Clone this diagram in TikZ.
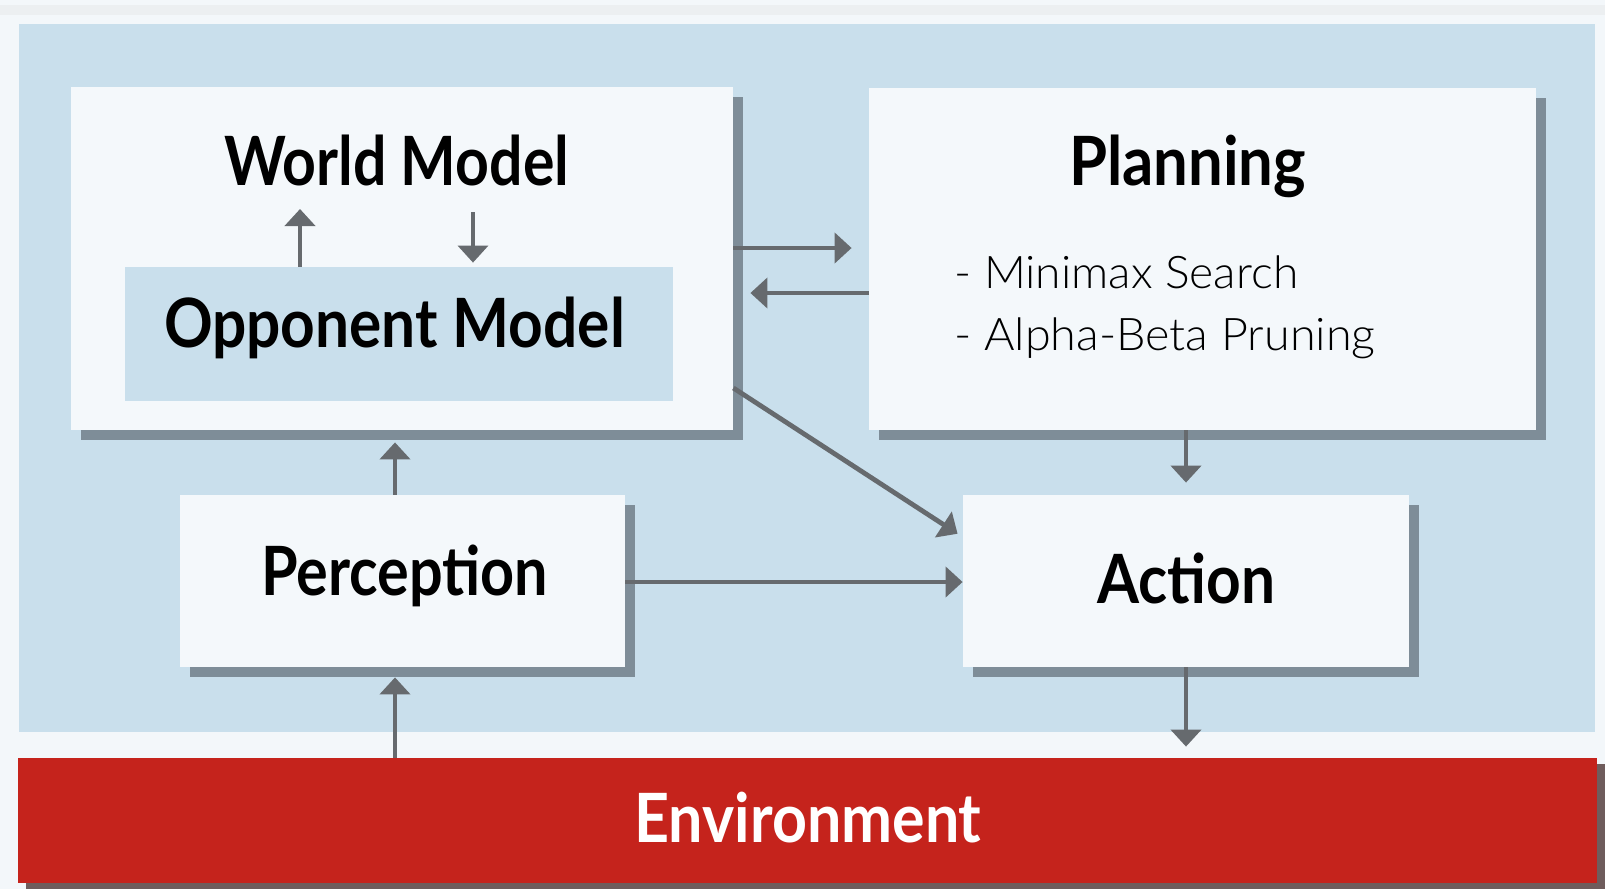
\documentclass[tikz,border=0pt]{standalone}
\usepackage{fontspec}
\usepackage{graphicx}
\setmainfont{Poppins}
\newfontfamily\titlefont{Lato}
\newfontfamily\lightfont{Lato Light}
\usetikzlibrary{arrows.meta,fit,shadows}
\newlength\fitlen
\newcommand\fitw[2]{\settowidth\fitlen{#2}\scalebox{\fpeval{#1/\fitlen}}[1]{#2}}
\definecolor{pagec}{HTML}{F3F7FA}
\definecolor{stripc}{HTML}{ECEFF1}
\definecolor{bluec}{HTML}{C9DFEC}
\definecolor{boxc}{HTML}{F4F8FB}
\definecolor{shadc}{HTML}{7E8D98}
\definecolor{arrowc}{HTML}{666A6E}
\definecolor{redc}{HTML}{C5231C}
\definecolor{envshad}{HTML}{6F5C5C}
\tikzset{
  box/.style={fill=boxc, draw=none, inner sep=0pt,
    drop shadow={shadow xshift=5pt, shadow yshift=-5pt, fill=shadc, opacity=1}},
  innerbox/.style={fill=bluec, draw=none, inner sep=0pt},
  envbox/.style={fill=redc, draw=none, inner sep=0pt,
    drop shadow={shadow xshift=4pt, shadow yshift=-3pt, fill=envshad, opacity=1}},
  title/.style={inner sep=0pt, anchor=base, font=\titlefont\bfseries\fontsize{34}{40}\selectfont},
  bullet/.style={inner sep=0pt, anchor=base west, font=\lightfont\fontsize{22.5}{28}\selectfont},
  arr/.style={draw=arrowc, line width=2.4pt, -{Triangle[width=15pt,length=8.5pt]}},
  thinarr/.style={arr, line width=1.8pt},
}
\begin{document}
\begin{tikzpicture}[x=0.5pt,y=-0.5pt]
\fill[pagec] (0,0) rectangle (1605,889);
\useasboundingbox (0,0) rectangle (1605,889);
\fill[stripc] (0,5) rectangle (1605,15);
\fill[bluec] (19,24) rectangle (1595,732);

% boxes
\node[box, fit={(71,87)(733,430)}] (wm) {};
\node[innerbox, fit={(125,267)(673,401)}] (opp) {};
\node[box, fit={(869,88)(1536,430)}] (plan) {};
\node[box, fit={(180,495)(625,667)}] (perc) {};
\node[box, fit={(963,495)(1409,667)}] (act) {};
\node[envbox, fit={(18,758)(1597,883)}] (env) {};

% texts
\node[title] (wmt) at (396.5,185) {\fitw{172.5pt}{World Model}};
\node[title] (oppt) at (394.5,347) {\fitw{230.5pt}{Opponent Model}};
\node[title] (plant) at (1187.5,185) {\fitw{118.5pt}{Planning}};
\node[title] (perct) at (404.5,595) {\fitw{143.5pt}{Perception}};
\node[title] (actt) at (1186,603) {\fitw{89pt}{Action}};
\node[title, text=white] (envt) at (808,842) {\fitw{173.5pt}{Environment}};
\node[bullet] (b1) at (954,288) {\fitw{172pt}{- Minimax Search}};
\node[bullet] (b2) at (954,350) {\fitw{210.5pt}{- Alpha-Beta Pruning}};

% free ends inside World Model
\coordinate (wmup) at (300,209);
\coordinate (wmdown) at (473,212);

% connectors
\draw[arr] (opp.north -| 300,0) -- (wmup);
\draw[thinarr, shorten >=2pt] (wmdown) -- (opp.north -| 473,0);
\draw[arr, shorten >=8.5pt] (wm.east |- 0,248) -- (plan.west |- 0,248);
\draw[arr, shorten >=8.5pt] (plan.west |- 0,293) -- (wm.east |- 0,293);
\draw[arr, shorten >=3pt] (wm.east |- 0,388) -- (act.west |- 0,537);
\draw[arr, shorten >=6pt] (perc.north -| 395,0) -- (wm.south -| 395,0);
\draw[arr] (perc.east |- 0,582) -- (act.west |- 0,582);
\draw[arr, shorten >=5pt] (env.north -| 395,0) -- (perc.south -| 395,0);
\draw[arr, shorten >=6pt] (plan.south -| 1186,0) -- (act.north -| 1186,0);
\draw[arr, shorten >=5.5pt] (act.south -| 1186,0) -- (env.north -| 1186,0);
\end{tikzpicture}
\end{document}
